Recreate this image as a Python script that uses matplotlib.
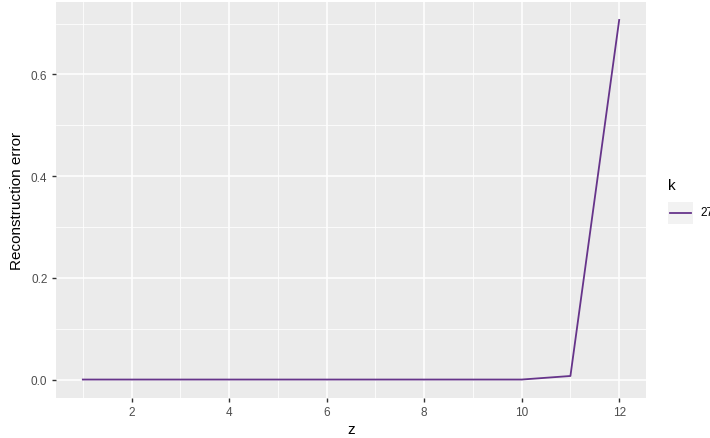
import matplotlib
matplotlib.use("Agg")
import matplotlib.pyplot as plt
from matplotlib.patches import Rectangle

plt.rcParams["font.family"] = ["Liberation Sans", "DejaVu Sans"]

z = [1, 2, 3, 4, 5, 6, 7, 8, 9, 10, 11, 12]
recon_error = [0.0, 0.0, 0.0, 0.0, 0.0, 0.0, 0.0, 0.0, 0.0, 0.0, 0.007, 0.707]
k_label = "27"
line_color = "#66348a"

x_major = [2, 4, 6, 8, 10, 12]
x_minor = [1, 3, 5, 7, 9, 11]
y_major = [0.0, 0.2, 0.4, 0.6]
y_minor = [0.1, 0.3, 0.5, 0.7]

fig = plt.figure(figsize=(7.10, 4.39), dpi=100)
ax = fig.add_axes([56/710, 1-398.5/439, (646-56)/710, (398.5-3)/439])
ax.set_facecolor("#EBEBEB")
for s in ax.spines.values():
    s.set_visible(False)

ax.set_xlim(0.45, 12.55)
ax.set_ylim(-0.0353, 0.7423)
ax.set_xticks(x_major)
ax.set_xticklabels([str(v) for v in x_major])
ax.set_yticks(y_major)
ax.set_yticklabels([f"{v:.1f}" for v in y_major])
ax.set_xticks(x_minor, minor=True)
ax.set_yticks(y_minor, minor=True)
ax.grid(which="major", color="white", linewidth=1.1)
ax.grid(which="minor", color="white", linewidth=0.55)
ax.set_axisbelow(True)
ax.tick_params(which="major", length=3.2, width=1.0, color="#333333",
               labelcolor="#4D4D4D", labelsize=8.5, pad=3)
ax.tick_params(which="minor", length=0)

ax.plot(z, recon_error, color=line_color, linewidth=1.3, label=k_label)

ax.set_xlabel("z", fontsize=11, color="black", labelpad=3)
ax.set_ylabel("Reconstruction error", fontsize=11, color="black", labelpad=5)

# legend
fig.text(668/710, 1-186/439, "k", fontsize=11, va="center", ha="left")
fig.patches.append(Rectangle((668/710, 1-225/439), 25/710, 22/439,
                             transform=fig.transFigure, facecolor="#F2F2F2",
                             edgecolor="none", zorder=1))
fig.lines.append(plt.Line2D([670/710, 691/710], [1-213.5/439, 1-213.5/439],
                            transform=fig.transFigure, color=line_color, linewidth=1.3))
fig.text(700/710, 1-213.5/439, k_label, fontsize=8.5, color="black", va="center", ha="left")

fig.savefig("out.png", dpi=100)
